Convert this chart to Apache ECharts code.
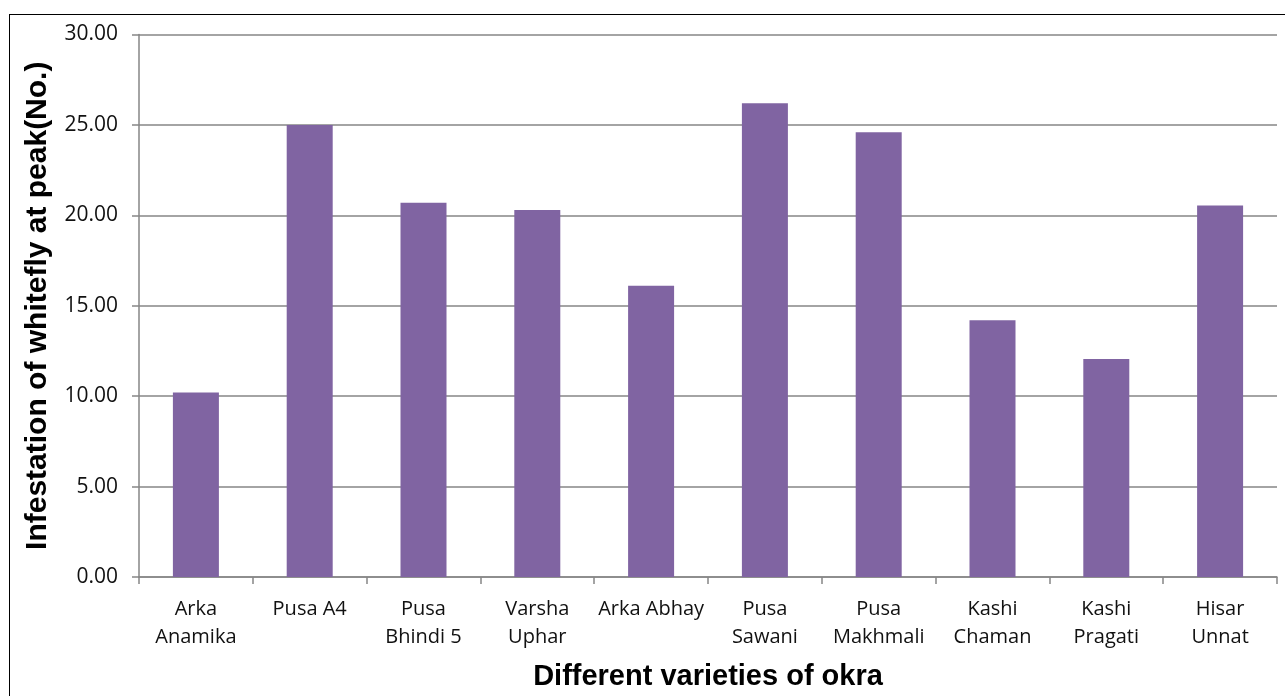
<!doctype html>
<html lang="en">
<head>
    <meta charset="utf-8">
    <title>Whitefly infestation on okra varieties</title>
    <script src="https://cdn.jsdelivr.net/npm/echarts@6.0.0/dist/echarts.min.js"></script>
    <style>
        html, body { margin: 0; padding: 0; background: #fff; overflow: hidden; }
        #main { width: 1285px; height: 696px; }
        #frame { position: absolute; left: 9px; top: 14px; width: 1300px; height: 720px;
                 border: 1.5px solid #000; pointer-events: none; }
    </style>
</head>
<body>
    <div id="main"></div>
    <div id="frame"></div>
    <script type="text/javascript">
        var varieties = ['Arka\nAnamika', 'Pusa A4', 'Pusa\nBhindi 5', 'Varsha\nUphar', 'Arka Abhay',
            'Pusa\nSawani', 'Pusa\nMakhmali', 'Kashi\nChaman', 'Kashi\nPragati', 'Hisar\nUnnat'];
        var whitefly = [10.2, 25.0, 20.7, 20.3, 16.1, 26.2, 24.6, 14.2, 12.05, 20.55];

        var myChart = echarts.init(document.getElementById('main'));
        var option = {
            animation: false,
            grid: { left: 139, right: 8, top: 34.5, bottom: 118 },
            xAxis: {
                type: 'category',
                data: varieties,
                name: 'Different varieties of okra',
                nameLocation: 'middle',
                nameGap: 85,
                nameTextStyle: { fontFamily: 'Liberation Sans', fontWeight: 'bold', fontSize: 29, color: '#000' },
                axisLine: { lineStyle: { color: '#868686', width: 1.5 } },
                axisTick: { show: true, length: 7, lineStyle: { color: '#868686', width: 1.5 } },
                axisLabel: { fontFamily: 'Open Sans', fontSize: 20, color: '#111', margin: 18, lineHeight: 28, interval: 0 }
            },
            yAxis: {
                type: 'value',
                min: 0, max: 30, interval: 5,
                name: 'Infestation of whitefly at peak(No.)',
                nameLocation: 'middle',
                nameGap: 86,
                nameTextStyle: { fontFamily: 'Liberation Sans', fontWeight: 'bold', fontSize: 30, color: '#000' },
                axisLine: { show: true, lineStyle: { color: '#868686', width: 1.5 } },
                axisTick: { show: true, length: 7, lineStyle: { color: '#868686', width: 1.5 } },
                axisLabel: {
                    fontFamily: 'Open Sans', fontSize: 21, color: '#111', margin: 21,
                    formatter: function (v) { return v.toFixed(2); }
                },
                splitLine: { lineStyle: { color: '#868686', width: 1.5 } }
            },
            series: [{
                type: 'bar',
                data: whitefly,
                barWidth: 46,
                itemStyle: { color: '#8064A2' }
            }]
        };
        myChart.setOption(option);
    </script>
</body>
</html>
